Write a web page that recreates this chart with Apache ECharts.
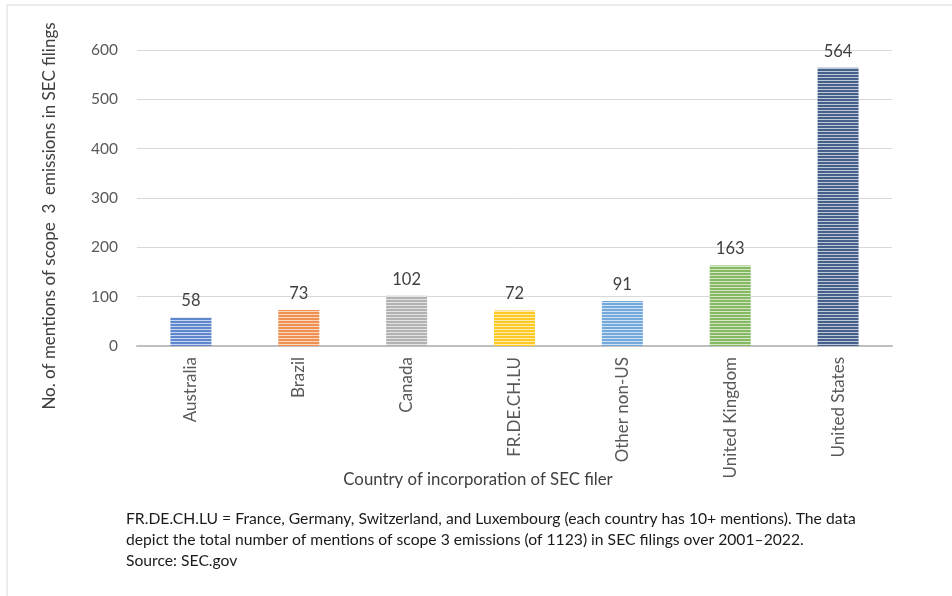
<!DOCTYPE html>
<html>
<head>
<meta charset="utf-8">
<script src="https://cdn.jsdelivr.net/npm/echarts@6/dist/echarts.min.js"></script>
<style>
  html, body { margin: 0; padding: 0; background: #fff; }
  #chart { width: 952px; height: 596px; }
</style>
</head>
<body>
<div id="chart"></div>
<script>
// Mentions of scope 3 emissions in SEC filings, by country of incorporation
const countries = ['Australia', 'Brazil', 'Canada', 'FR.DE.CH.LU', 'Other non-US', 'United Kingdom', 'United States'];
const mentions = [58, 73, 102, 72, 91, 163, 564];
const barColors = ['#4472C4', '#ED7D31', '#A5A5A5', '#FFC000', '#5B9BD5', '#70AD47', '#264478'];
const yTicks = [0, 100, 200, 300, 400, 500, 600];

const FONT = 'Lato, "Open Sans", sans-serif';

// Narrow horizontal stripe fill: solid colour rows separated by pale rows
function stripes(color) {
  const c = document.createElement('canvas');
  c.width = 4; c.height = 3;
  const g = c.getContext('2d');
  g.fillStyle = '#ffffff';
  g.fillRect(0, 0, 4, 3);
  g.globalAlpha = 0.85;
  g.fillStyle = color;
  g.fillRect(0, 0, 4, 2);
  g.globalAlpha = 0.3;
  g.fillRect(0, 2, 4, 1);
  return { image: c, repeat: 'repeat' };
}

const chart = echarts.init(document.getElementById('chart'), null, { renderer: 'canvas' });
chart.setOption({
  backgroundColor: '#ffffff',
  animation: false,
  grid: { left: 137, right: 60, top: 50, bottom: 250, containLabel: false },
  xAxis: {
    type: 'category',
    data: countries,
    axisLine: { lineStyle: { color: '#BFBFBF', width: 2 } },
    axisTick: { show: false },
    axisLabel: {
      rotate: 90, margin: 11, color: '#595959', fontSize: 17, fontFamily: FONT
    }
  },
  yAxis: {
    type: 'value',
    min: yTicks[0], max: yTicks[yTicks.length - 1], interval: 100,
    axisLine: { show: false },
    axisTick: { show: false },
    splitLine: { lineStyle: { color: '#D9D9D9', width: 1 } },
    axisLabel: { margin: 19, color: '#595959', fontSize: 15.5, fontFamily: FONT }
  },
  series: [{
    type: 'bar',
    barWidth: '38%',
    data: mentions.map((v, i) => ({
      value: v,
      itemStyle: { color: stripes(barColors[i]) }
    })),
    label: {
      show: true, position: 'top', distance: 8,
      color: '#404040', fontSize: 16.5, fontFamily: FONT
    }
  }],
  graphic: [
    {
      type: 'rect', silent: true, z: -1,
      shape: { x: 7, y: 5, width: 960, height: 600 },
      style: { fill: 'none', stroke: '#D9D9D9', lineWidth: 1 }
    },
    {
      type: 'text', x: 50, y: 216, rotation: Math.PI / 2,
      style: {
        text: 'No. of mentions of scope  3  emissions in SEC filings',
        x: 0, y: 0, align: 'center', verticalAlign: 'middle',
        fill: '#404040', font: '17px ' + FONT
      }
    },
    {
      type: 'text',
      style: {
        text: 'Country of incorporation of SEC filer',
        x: 478, y: 480, align: 'center', verticalAlign: 'middle',
        fill: '#404040', font: '16.8px ' + FONT
      }
    },
    {
      type: 'text',
      style: {
        text: 'FR.DE.CH.LU = France, Germany, Switzerland, and Luxembourg (each country has 10+ mentions). The data\ndepict the total number of mentions of scope 3 emissions (of 1123) in SEC filings over 2001\u20132022.\nSource: SEC.gov',
        x: 126, y: 508, lineHeight: 21,
        fill: '#1a1a1a', font: '15.7px ' + FONT
      }
    }
  ]
});
</script>
</body>
</html>
